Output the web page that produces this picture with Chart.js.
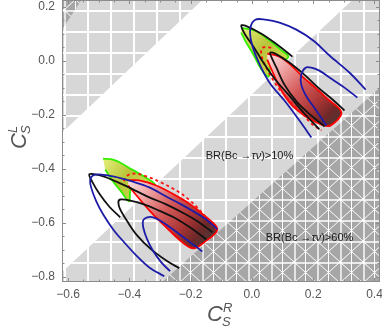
<!DOCTYPE html>
<html>
<head>
<meta charset="utf-8">
<script src="https://cdn.jsdelivr.net/npm/chart.js@4.4.0/dist/chart.umd.min.js"></script>
<style>
  html, body { margin: 0; padding: 0; background: #fff; }
  #wrap { width: 382px; height: 327px; }
</style>
</head>
<body>
<div id="wrap"><canvas id="grafico"></canvas></div>
<script>
// axis ticks
const xTicks = [-0.6, -0.4, -0.2, 0.0, 0.2, 0.4];
const yTicks = [-0.8, -0.6, -0.4, -0.2, 0.0, 0.2];

// excluded regions (BR(Bc->tau nu) > 10% and > 60%)
const br10Upper = [[-0.62, -0.266], [-0.162, 0.226], [-0.62, 0.226]];
const br10Lower = [[-0.62, -0.784], [0.328, 0.226], [0.418, 0.226], [0.418, -0.82], [-0.62, -0.82]];
const br60Lower = [[-0.293, -0.82], [0.418, -0.099], [0.418, -0.82]];
const br60Corner = [[-0.62, 0.116], [-0.557, 0.226], [-0.62, 0.226]];

// upper solution
const greenUp = [[-0.035, 0.123], [0.011, 0.112], [0.054, 0.079], [0.093, 0.042], [0.119, 0.016], [0.096, -0.003],
  [0.063, -0.017], [0.054, -0.058], [0.031, -0.032], [0.005, 0.023], [-0.022, 0.075], [-0.035, 0.105]];
const redUp = [[0.050, 0.027], [0.090, 0.016], [0.129, -0.017], [0.165, -0.058], [0.207, -0.099], [0.246, -0.140],
  [0.292, -0.191], [0.256, -0.240], [0.227, -0.236], [0.181, -0.210], [0.132, -0.166], [0.093, -0.103],
  [0.067, -0.040], [0.050, 0.005]];
const redDashUp = [[0.063, 0.049], [0.034, 0.049], [0.031, 0.020], [0.050, -0.032], [0.083, -0.095], [0.119, -0.143],
  [0.155, -0.184], [0.194, -0.232], [0.227, -0.258]];
const blackUpA = [[0.220, -0.254], [0.171, -0.195], [0.122, -0.129], [0.076, -0.069], [0.037, -0.006], [0.005, 0.053],
  [-0.022, 0.097], [-0.035, 0.131], [-0.022, 0.131], [0.031, 0.101], [0.083, 0.060], [0.132, 0.016]];
const blackUpB = [[0.237, -0.243], [0.194, -0.203], [0.148, -0.154], [0.106, -0.088], [0.080, -0.025], [0.063, 0.016],
  [0.060, 0.031], [0.076, 0.027], [0.122, -0.006], [0.171, -0.051], [0.220, -0.103], [0.263, -0.143], [0.302, -0.184]];
const blueUpA = [[0.194, -0.284], [0.155, -0.221], [0.106, -0.147], [0.057, -0.080], [0.021, -0.003], [-0.002, 0.071],
  [-0.005, 0.123], [0.011, 0.153], [0.044, 0.153], [0.090, 0.142], [0.145, 0.116], [0.201, 0.075], [0.253, 0.020],
  [0.318, -0.043], [0.371, -0.106]];
const blueUpB = [[0.243, -0.240], [0.210, -0.184], [0.178, -0.132], [0.161, -0.088], [0.161, -0.051], [0.175, -0.025],
  [0.194, -0.025], [0.220, -0.036], [0.263, -0.069], [0.302, -0.099], [0.344, -0.136]];

// lower solution
const greenLo = [[-0.486, -0.362], [-0.446, -0.369], [-0.391, -0.403], [-0.342, -0.436], [-0.316, -0.458], [-0.352, -0.462],
  [-0.384, -0.455], [-0.397, -0.477], [-0.401, -0.521], [-0.427, -0.484], [-0.456, -0.443], [-0.479, -0.403]];
const redLo = [[-0.404, -0.443], [-0.368, -0.443], [-0.312, -0.462], [-0.260, -0.492], [-0.205, -0.529], [-0.152, -0.577],
  [-0.113, -0.625], [-0.156, -0.673], [-0.191, -0.695], [-0.227, -0.673], [-0.280, -0.617], [-0.332, -0.558],
  [-0.374, -0.503], [-0.404, -0.462]];
const redDashLo = [[-0.418, -0.446], [-0.405, -0.424], [-0.380, -0.418], [-0.342, -0.429], [-0.302, -0.448], [-0.246, -0.481],
  [-0.203, -0.517], [-0.170, -0.554], [-0.140, -0.594], [-0.119, -0.626]];
const blackLoA = [[-0.430, -0.580], [-0.466, -0.540], [-0.499, -0.491], [-0.522, -0.447], [-0.531, -0.421], [-0.512, -0.421],
  [-0.482, -0.429], [-0.407, -0.466], [-0.335, -0.506], [-0.280, -0.532], [-0.221, -0.566], [-0.172, -0.599], [-0.129, -0.636]];
const blackLoB = [[-0.237, -0.769], [-0.276, -0.743], [-0.329, -0.699], [-0.375, -0.647], [-0.407, -0.595], [-0.430, -0.551],
  [-0.436, -0.525], [-0.430, -0.514], [-0.401, -0.517], [-0.352, -0.532], [-0.303, -0.555], [-0.254, -0.581],
  [-0.198, -0.621], [-0.149, -0.662]];
const blueLoA = [[-0.286, -0.799], [-0.335, -0.766], [-0.378, -0.721], [-0.417, -0.673], [-0.453, -0.625], [-0.486, -0.569],
  [-0.508, -0.521], [-0.525, -0.469], [-0.528, -0.440], [-0.519, -0.425], [-0.499, -0.421], [-0.450, -0.429],
  [-0.391, -0.447], [-0.335, -0.469], [-0.280, -0.503], [-0.231, -0.532], [-0.185, -0.562], [-0.149, -0.588], [-0.113, -0.625]];
const blueLoB = [[-0.267, -0.780], [-0.296, -0.747], [-0.322, -0.706], [-0.342, -0.662], [-0.355, -0.617], [-0.355, -0.591],
  [-0.342, -0.580], [-0.322, -0.580], [-0.296, -0.595], [-0.263, -0.621], [-0.227, -0.651], [-0.188, -0.684], [-0.162, -0.707]];

// text notes
const notas = ['BR(Bc \u2192\u03c4\u03bd)>10%', 'BR(Bc \u2192\u03c4\u03bd)>60%'];
const notasPos = [[-0.008, -0.351], [0.188, -0.658]];

// gradient axis of the red and green blobs (tip -> dark end)
const eixoRedUp = [[0.050, 0.027], [0.272, -0.215]];
const eixoRedLo = [[-0.404, -0.443], [-0.160, -0.665]];
const eixoGreenUp = [[-0.035, 0.123], [0.110, -0.020]];
const eixoGreenLo = [[-0.486, -0.362], [-0.330, -0.480]];

function pts(arr) {
  return arr.map(p => ({ x: p[0], y: p[1] }));
}

function malha(fundo, diagonal) {
  const c = document.createElement('canvas');
  c.width = 23; c.height = 21;
  const g = c.getContext('2d');
  g.fillStyle = fundo;
  g.fillRect(0, 0, 23, 21);
  g.strokeStyle = '#ffffff';
  g.lineWidth = diagonal ? 1.4 : 2;
  g.beginPath();
  g.moveTo(1, 0); g.lineTo(1, 21);
  g.moveTo(0, 1); g.lineTo(23, 1);
  g.stroke();
  if (diagonal) {
    g.lineWidth = 1;
    g.beginPath();
    g.moveTo(0, 0); g.lineTo(23, 21);
    g.moveTo(23, 0); g.lineTo(0, 21);
    g.moveTo(11.5, 0); g.lineTo(11.5, 21);
    g.stroke();
  }
  const p = g.createPattern(c, 'repeat');
  p.setTransform(new DOMMatrix().translate(18, 10));
  return p;
}

const padraoClaro = malha('#d7d7d7', false);
const padraoEscuro = malha('#a6a6a6', true);

function gradiente(chart, eixo, stops) {
  const xs = chart.scales.x, ys = chart.scales.y;
  if (!chart.chartArea || !xs || !ys) return 'rgba(0,0,0,0)';
  const g = chart.ctx.createLinearGradient(
    xs.getPixelForValue(eixo[0][0]), ys.getPixelForValue(eixo[0][1]),
    xs.getPixelForValue(eixo[1][0]), ys.getPixelForValue(eixo[1][1]));
  stops.forEach(s => g.addColorStop(s[0], s[1]));
  return g;
}

const stopsRed = [[0, '#fbe3e3'], [0.25, '#eea0a0'], [0.5, '#d45a5a'], [0.75, '#a83434'], [0.92, '#6e2828'], [1, '#5a3030']];
const stopsGreen = [[0, '#e6f07a'], [0.5, '#b8c43a'], [1, '#d2e050']];

function regiao(arr, fundo, ordem) {
  return {
    data: pts(arr), showLine: true, pointRadius: 0, borderWidth: 1,
    borderColor: 'rgba(0,0,0,0)', backgroundColor: fundo, fill: 'shape', order: ordem
  };
}

function blob(arr, eixo, stops, borda, ordem) {
  return {
    data: pts(arr), showLine: true, pointRadius: 0, borderWidth: 1.8, borderColor: borda,
    backgroundColor: ctx => gradiente(ctx.chart, eixo, stops), fill: 'shape', tension: 0.35, order: ordem
  };
}

function curva(arr, cor, ordem, dash) {
  return {
    data: pts(arr), showLine: true, pointRadius: 0, borderWidth: 1.8, borderColor: cor,
    borderDash: dash || [], fill: false, tension: 0.35, order: ordem
  };
}

const azul = '#1c1ca8';
const preto = '#111111';

const fmt = v => (v < -1e-9 ? '\u2212' : '') + Math.abs(v).toFixed(1);

const moldura = {
  id: 'moldura',
  afterDatasetsDraw(chart) {
    const { ctx, chartArea: a, scales: { x, y } } = chart;
    ctx.save();
    ctx.strokeStyle = '#8c8c8c';
    ctx.lineWidth = 1;
    ctx.strokeRect(a.left + 0.5, a.top + 0.5, a.right - a.left - 1, a.bottom - a.top - 1);
    ctx.beginPath();
    for (let i = 0; i <= 20; i++) {
      const vx = -0.6 + i * 0.05;
      const px = Math.round(x.getPixelForValue(vx)) + 0.5;
      const t = i % 4 === 0 ? 4 : 2.5;
      ctx.moveTo(px, a.bottom); ctx.lineTo(px, a.bottom - t);
      ctx.moveTo(px, a.top); ctx.lineTo(px, a.top + t);
      const vy = -0.8 + i * 0.05;
      const py = Math.round(y.getPixelForValue(vy)) + 0.5;
      ctx.moveTo(a.left, py); ctx.lineTo(a.left + t, py);
      ctx.moveTo(a.right, py); ctx.lineTo(a.right - t, py);
    }
    ctx.stroke();
    ctx.restore();
  },
  afterDraw(chart) {
    const { ctx, scales: { x, y } } = chart;
    ctx.save();
    // notes
    ctx.fillStyle = '#1a1a1a';
    ctx.textBaseline = 'middle';
    notas.forEach((txt, i) => {
      const partes = txt.split(/(\u03c4\u03bd)/);
      const fontes = partes.map(p => (p === '\u03c4\u03bd' ? 'italic ' : '') + '11px "Liberation Sans", Arial, sans-serif');
      let w = 0;
      partes.forEach((p, k) => { ctx.font = fontes[k]; w += ctx.measureText(p).width; });
      let px = x.getPixelForValue(notasPos[i][0]) - w / 2;
      const py = y.getPixelForValue(notasPos[i][1]);
      partes.forEach((p, k) => {
        ctx.font = fontes[k];
        ctx.textAlign = 'left';
        ctx.fillText(p, px, py);
        px += ctx.measureText(p).width;
      });
    });
    // axis titles
    ctx.fillStyle = '#555555';
    ctx.textBaseline = 'alphabetic';
    ctx.textAlign = 'left';
    const big = 'italic 22px "Liberation Sans", Arial, sans-serif';
    const small = 'italic 13px "Liberation Sans", Arial, sans-serif';
    ctx.font = big;
    ctx.fillText('C', 207, 321);
    let wc = ctx.measureText('C').width;
    ctx.font = small;
    ctx.fillText('R', 207 + wc, 312);
    ctx.fillText('S', 206 + wc, 326);
    ctx.translate(26, 149);
    ctx.rotate(-Math.PI / 2);
    ctx.font = big;
    ctx.fillText('C', 0, 0);
    wc = ctx.measureText('C').width;
    ctx.font = small;
    ctx.fillText('L', wc, -9);
    ctx.fillText('S', wc - 1, 4);
    ctx.restore();
  }
};

new Chart(document.getElementById('grafico'), {
  type: 'scatter',
  data: {
    datasets: [
      curva(blueUpA, azul, 1),
      curva(blueUpB, azul, 1),
      curva(blueLoA, azul, 1),
      curva(blueLoB, azul, 1),
      curva(blackUpA, preto, 2),
      curva(blackUpB, preto, 2),
      curva(blackLoA, preto, 2),
      curva(blackLoB, preto, 2),
      curva(redDashUp, '#ff1010', 3, [3, 3]),
      curva(redDashLo, '#ff1010', 3, [3, 3]),
      blob(redUp, eixoRedUp, stopsRed, '#ff0000', 4),
      blob(redLo, eixoRedLo, stopsRed, '#ff0000', 4),
      blob(greenUp, eixoGreenUp, stopsGreen, '#33ee00', 5),
      blob(greenLo, eixoGreenLo, stopsGreen, '#33ee00', 5),
      regiao(br60Lower, padraoEscuro, 6),
      regiao(br60Corner, padraoEscuro, 6),
      regiao(br10Upper, padraoClaro, 7),
      regiao(br10Lower, padraoClaro, 7)
    ]
  },
  options: {
    responsive: true,
    maintainAspectRatio: false,
    animation: false,
    layout: { padding: { top: 0, right: 2, bottom: 0, left: 0 } },
    plugins: { legend: { display: false }, tooltip: { enabled: false } },
    scales: {
      x: {
        type: 'linear', min: -0.62, max: 0.418,
        grid: { display: false, drawTicks: false },
        border: { display: false },
        ticks: {
          color: '#555555', padding: 5, maxRotation: 0, autoSkip: false,
          font: { size: 12, family: '"Liberation Sans", Arial, sans-serif' },
          callback: v => fmt(v)
        },
        afterBuildTicks: s => { s.ticks = xTicks.map(v => ({ value: v })); },
        afterFit: s => { s.height = 45; s.paddingLeft = 0; s.paddingRight = 0; }
      },
      y: {
        type: 'linear', min: -0.82, max: 0.226,
        grid: { display: false, drawTicks: false },
        border: { display: false },
        ticks: {
          color: '#555555', padding: 7, autoSkip: false,
          font: { size: 12, family: '"Liberation Sans", Arial, sans-serif' },
          callback: v => fmt(v)
        },
        afterBuildTicks: s => { s.ticks = yTicks.map(v => ({ value: v })); },
        afterFit: s => { s.width = 62; s.paddingTop = 0; s.paddingBottom = 0; }
      }
    }
  },
  plugins: [moldura]
});
</script>
</body>
</html>
